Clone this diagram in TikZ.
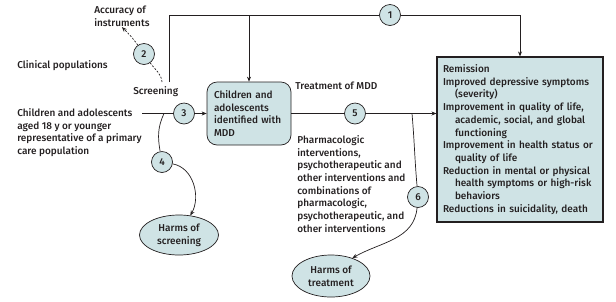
\documentclass[tikz,border=0pt]{standalone}
\usepackage{fontspec}
\setmainfont{Fira Sans Medium}
\usetikzlibrary{positioning,arrows.meta,shapes.geometric}
\definecolor{tbl}{HTML}{CFE3E5}
\definecolor{ink}{HTML}{231F20}
\tikzset{
  txt/.style={anchor=north west, inner sep=0pt, align=left},
  num/.style={draw, circle, fill=tbl, minimum size=21pt, inner sep=0pt},
  harm/.style={draw, ellipse, fill=tbl, align=center, inner sep=0pt},
  arr/.style={-{Stealth[length=5pt,width=4pt]}},
  dsh/.style={dash pattern=on 2pt off 1.5pt}}
\newcommand{\ind}{\hspace*{12pt}}

\begin{document}
\begin{tikzpicture}[x=1pt, y=1pt, font=\fontsize{10}{12.7}\selectfont, line width=0.7pt, color=ink]
\useasboundingbox (0,0) rectangle (616,-301);
\node[txt] (acc) at (94,-6) {Accuracy of\\instruments};
\node[txt] (clin) at (17,-60) {Clinical populations};
\node[txt] (scr) at (133,-86) {Screening};
\node[txt] (pop) at (17,-108) {Children and adolescents\\aged 18 y or younger\\representative of a primary\\care population};
\node[draw, fill=tbl, rounded corners=10pt, minimum width=84pt, minimum height=63pt, text width=70pt, align=left, inner sep=0pt]
  (mdd) at (249,-113.5) {Children and\\adolescents\\identified with\\MDD};
\node[txt] (trt) at (295,-82) {Treatment of MDD};
\node[txt] (rx) at (297,-135) {Pharmacologic\\interventions,\\psychotherapeutic and\\other interventions and\\combinations of\\pharmacologic,\\psychotherapeutic, and\\other interventions};
\node[draw, fill=tbl, line width=1.1pt, minimum width=166pt, minimum height=165pt, text width=154pt, align=left, inner sep=0pt]
  (out) at (520,-139.5) {Remission\\Improved depressive symptoms\\\ind(severity)\\Improvement in quality of life,\\\ind academic, social, and global\\\ind functioning\\Improvement in health status or\\\ind quality of life\\Reduction in mental or physical\\\ind health symptoms or high-risk\\\ind behaviors\\Reductions in suicidality, death};
\node[harm, minimum width=79pt, minimum height=40pt] (hs) at (179,-235) {Harms of\\screening};
\node[harm, minimum width=78pt, minimum height=42pt] (ht) at (331,-276) {Harms of\\treatment};
\foreach \n/\p in {1/{390,-15}, 2/{144,-54}, 3/{184,-113.5}, 4/{162,-162}, 5/{355,-113.5}, 6/{418,-197}}
  \node[num] (c\n) at (\p) {\n};
\coordinate (s0) at (169,-82);
\coordinate (s2) at (162,-82);
\coordinate (p0) at (142,-113.5);
\coordinate (j4) at (164,-113.5);
\coordinate (j6) at (412,-113.5);
\draw (s0) |- (c1);
\draw[arr] (c1) -| (out.north);
\draw[arr] (mdd.north |- c1) -- (mdd.north);
\draw (p0) -- (c3);
\draw[arr] (c3) -- (mdd);
\draw (mdd) -- (c5);
\draw[arr] (c5) -- (c5 -| out.west);
\draw[dsh] (s2) to[out=95,in=-55] (c2);
\draw[dsh, arr] (c2) to[out=125,in=-45] (acc.south);
\draw (j4) to[out=245,in=100] (c4);
\draw[arr] (c4) to[out=-10,in=60] (hs);
\draw (j6) to[out=-85,in=95] (c6);
\draw[arr] (c6) to[out=-95,in=30] (ht.40);
\end{tikzpicture}
\end{document}
